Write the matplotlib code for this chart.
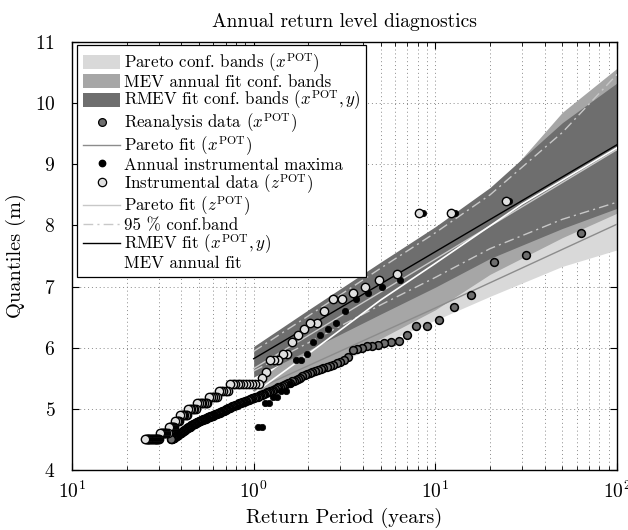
import numpy as np
import matplotlib
matplotlib.use('Agg')
import matplotlib.pyplot as plt
from matplotlib.patches import Patch
from matplotlib.lines import Line2D

plt.rcParams['font.family'] = ['cmr10', 'DejaVu Serif']
plt.rcParams['mathtext.fontset'] = 'cm'
plt.rcParams['axes.formatter.use_mathtext'] = True
plt.rcParams['axes.unicode_minus'] = False

# ---------------- data ----------------
# record lengths (years) used for plotting positions T = years / rank
reanalysis_years = 63.0
instrumental_years = 24.5
annual_years = 25.5

# Reanalysis POT data x^POT, sorted descending (rank 1..180)
reanalysis_q = [
    7.88, 7.51, 7.40, 6.86, 6.67, 6.46, 6.36, 6.35, 6.21, 6.11,
    6.10, 6.08, 6.05, 6.03, 6.02, 6.00, 5.98, 5.96, 5.85, 5.80,
    5.77, 5.75, 5.72, 5.70, 5.68, 5.67, 5.65, 5.63, 5.62, 5.61,
    5.59, 5.57, 5.55, 5.53, 5.51, 5.49, 5.47, 5.46, 5.45, 5.43,
    5.42, 5.40, 5.39, 5.38, 5.36, 5.35, 5.34, 5.32, 5.31, 5.30,
    5.29, 5.28, 5.27, 5.26, 5.25, 5.24, 5.23, 5.22, 5.21, 5.20,
    5.19, 5.19, 5.18, 5.17, 5.16, 5.16, 5.15, 5.14, 5.13, 5.13,
    5.12, 5.11, 5.11, 5.10, 5.09, 5.09, 5.08, 5.07, 5.06, 5.06,
    5.05, 5.04, 5.04, 5.03, 5.02, 5.01, 5.01, 5.00, 4.99, 4.98,
    4.98, 4.97, 4.96, 4.96, 4.95, 4.95, 4.94, 4.93, 4.93, 4.92,
    4.92, 4.91, 4.91, 4.90, 4.90, 4.89, 4.89, 4.88, 4.88, 4.87,
    4.87, 4.86, 4.86, 4.85, 4.85, 4.84, 4.84, 4.83, 4.83, 4.82,
    4.82, 4.81, 4.81, 4.80, 4.80, 4.80, 4.79, 4.79, 4.78, 4.78,
    4.77, 4.77, 4.76, 4.76, 4.75, 4.75, 4.74, 4.73, 4.73, 4.72,
    4.71, 4.71, 4.70, 4.70, 4.69, 4.68, 4.68, 4.67, 4.67, 4.66,
    4.65, 4.65, 4.64, 4.64, 4.63, 4.62, 4.62, 4.61, 4.61, 4.60,
    4.60, 4.59, 4.59, 4.58, 4.58, 4.57, 4.56, 4.56, 4.55, 4.55,
    4.54, 4.54, 4.53, 4.53, 4.52, 4.52, 4.51, 4.51, 4.50, 4.50,
]

# Instrumental POT data z^POT, sorted descending (rank 1..97)
instrumental_q = [
    8.4, 8.2, 8.2, 7.2, 7.1, 7.0, 6.9, 6.8, 6.8, 6.6,
    6.4, 6.4, 6.3, 6.2, 6.1, 5.9, 5.9, 5.8, 5.8, 5.8,
    5.6, 5.5, 5.4, 5.4, 5.4, 5.4, 5.4, 5.4, 5.4, 5.4,
    5.4, 5.4, 5.4, 5.3, 5.3, 5.3, 5.3, 5.3, 5.2, 5.2,
    5.2, 5.2, 5.2, 5.1, 5.1, 5.1, 5.1, 5.1, 5.1, 5.1,
    5.0, 5.0, 5.0, 5.0, 5.0, 5.0, 4.9, 4.9, 4.9, 4.9,
    4.9, 4.9, 4.8, 4.8, 4.8, 4.8, 4.7, 4.7, 4.7, 4.7,
    4.7, 4.7, 4.6, 4.6, 4.6, 4.6, 4.6, 4.6, 4.6, 4.6,
    4.5, 4.5, 4.5, 4.5, 4.5, 4.5, 4.5, 4.5, 4.5, 4.5,
    4.5, 4.5, 4.5, 4.5, 4.5, 4.5, 4.5,
]

# Annual instrumental maxima, sorted descending (rank 1..24)
annual_max_q = [
    8.4, 8.2, 8.2, 7.1, 7.0, 6.9, 6.8, 6.6, 6.4, 6.3,
    6.2, 6.1, 5.9, 5.8, 5.8, 5.4, 5.3, 5.3, 5.2, 5.2,
    5.1, 5.1, 4.7, 4.7,
]

# Fitted curves / bands (return period nodes in years)
band_T = [1, 2, 5, 10, 20, 50, 100]
pareto_band_lo = [5.15, 5.54, 6.06, 6.45, 6.84, 7.33, 7.60]
pareto_band_hi = [5.42, 5.92, 6.55, 7.00, 7.48, 8.10, 8.55]
mev_band_lo = [5.20, 5.55, 6.15, 6.62, 7.20, 7.80, 8.20]
mev_band_hi = [5.40, 6.10, 7.00, 7.70, 8.50, 9.85, 10.57]
rmev_band_lo = [5.52, 5.96, 6.55, 6.99, 7.46, 7.95, 8.28]
rmev_band_hi = [6.02, 6.62, 7.40, 7.98, 8.62, 9.68, 10.33]
conf95_lo = [5.62, 6.08, 6.70, 7.15, 7.62, 8.10, 8.38]
conf95_hi = [5.94, 6.52, 7.30, 7.88, 8.50, 9.52, 10.47]

fit_T = [1, 10, 100]
pareto_x_fit = [5.30, 6.65, 8.02]
pareto_z_fit = [5.66, 7.45, 9.24]
rmev_fit = [5.82, 7.57, 9.32]
mev_T = [1, 2, 5, 10, 30, 100]
mev_fit = [5.25, 5.90, 6.78, 7.38, 8.35, 9.27]

# ---------------- figure ----------------
fig = plt.figure(figsize=(6.28, 5.30), dpi=100)
ax = fig.add_axes([72 / 628, 1 - 470 / 530, 545 / 628, 428 / 530])

c_light, c_mid, c_dark = '#d9d9d9', '#a6a6a6', '#6e6e6e'
dashdot = (0, (7, 3, 1.5, 3))

ax.fill_between(band_T, pareto_band_lo, pareto_band_hi, color=c_light, lw=0, zorder=2)
ax.fill_between(band_T, mev_band_lo, mev_band_hi, color=c_mid, lw=0, zorder=2.1)
ax.fill_between(band_T, rmev_band_lo, rmev_band_hi, color=c_dark, lw=0, zorder=2.2)

ax.plot(band_T, conf95_lo, color='#c8c8c8', lw=1.0, ls=dashdot, zorder=3)
ax.plot(band_T, conf95_hi, color='#c8c8c8', lw=1.0, ls=dashdot, zorder=3)
ax.plot(fit_T, pareto_x_fit, color='#8c8c8c', lw=1.0, zorder=3)
ax.plot(fit_T, pareto_z_fit, color='#c8c8c8', lw=1.0, zorder=3)
ax.plot(mev_T, mev_fit, color='white', lw=1.2, zorder=3.1)
ax.plot(fit_T, rmev_fit, color='black', lw=1.0, zorder=3.2)

T_re = reanalysis_years / np.arange(1, len(reanalysis_q) + 1)
T_in = instrumental_years / np.arange(1, len(instrumental_q) + 1)
T_am = annual_years / np.arange(1, len(annual_max_q) + 1)

ax.plot(T_re, reanalysis_q, ls='none', marker='o', ms=5.6, mfc=c_dark, mec='black', mew=1.1, zorder=4)
ax.plot(T_am, annual_max_q, ls='none', marker='o', ms=4.6, mfc='black', mec='black', mew=0.5, zorder=4.1)
ax.plot(T_in, instrumental_q, ls='none', marker='o', ms=6.0, mfc='#e0e0e0', mec='black', mew=1.0, zorder=4.2)

ax.set_xscale('log')
ax.set_xlim(0.1, 100)
ax.set_ylim(4, 11)
ax.set_yticks([4, 5, 6, 7, 8, 9, 10, 11])
ax.set_xticks([0.1, 1, 10, 100])
ax.set_xticklabels(['$10^{1}$', '$10^{0}$', '$10^{1}$', '$10^{2}$'])

ax.set_axisbelow(True)
ax.grid(True, which='major', axis='both', ls=(0, (1, 3)), color='#8a8a8a', lw=0.7)
ax.grid(True, which='minor', axis='x', ls=(0, (1, 3)), color='#8a8a8a', lw=0.7)

ax.tick_params(which='both', direction='in', top=True, right=True, labelsize=14)
ax.tick_params(which='major', length=5, width=0.8)
ax.tick_params(which='minor', length=3, width=0.6)
ax.tick_params(axis='x', pad=8)
ax.tick_params(axis='y', pad=12)
for s in ax.spines.values():
    s.set_linewidth(1.0)

ax.set_title('Annual return level diagnostics', fontsize=14, pad=11)
ax.set_xlabel('Return Period (years)', fontsize=14.7, labelpad=4)
ax.set_ylabel('Quantiles (m)', fontsize=14.7, labelpad=6)

handles = [
    Patch(facecolor=c_light, edgecolor='none'),
    Patch(facecolor=c_mid, edgecolor='none'),
    Patch(facecolor=c_dark, edgecolor='none'),
    Line2D([], [], ls='none', marker='o', ms=5.6, mfc=c_dark, mec='black', mew=0.9),
    Line2D([], [], color='#8c8c8c', lw=1.0),
    Line2D([], [], ls='none', marker='o', ms=4.6, mfc='black', mec='black'),
    Line2D([], [], ls='none', marker='o', ms=6.0, mfc='#e0e0e0', mec='black', mew=0.9),
    Line2D([], [], color='#c8c8c8', lw=1.0),
    Line2D([], [], color='#c8c8c8', lw=1.0, ls=dashdot),
    Line2D([], [], color='black', lw=1.0),
    Line2D([], [], color='white', lw=1.2),
]
labels = [
    r'Pareto conf. bands ($x^{\mathrm{POT}}$)',
    'MEV annual fit conf. bands',
    r'RMEV fit conf. bands ($x^{\mathrm{POT}}, y$)',
    r'Reanalysis data ($x^{\mathrm{POT}}$)',
    r'Pareto fit ($x^{\mathrm{POT}}$)',
    'Annual instrumental maxima',
    r'Instrumental data ($z^{\mathrm{POT}}$)',
    r'Pareto fit ($z^{\mathrm{POT}}$)',
    '95 % conf.band',
    r'RMEV fit ($x^{\mathrm{POT}}, y$)',
    'MEV annual fit',
]
leg = ax.legend(handles, labels, loc='upper left', bbox_to_anchor=(5 / 545, 1 - 3 / 428),
                borderaxespad=0, fontsize=12.2, frameon=True, fancybox=False,
                framealpha=1, edgecolor='black', handlelength=2.2, handleheight=0.9,
                handletextpad=0.2, labelspacing=-0.05, borderpad=0.35)
leg.get_frame().set_linewidth(0.9)
leg.set_zorder(10)

fig.savefig('out.png', dpi=100)
